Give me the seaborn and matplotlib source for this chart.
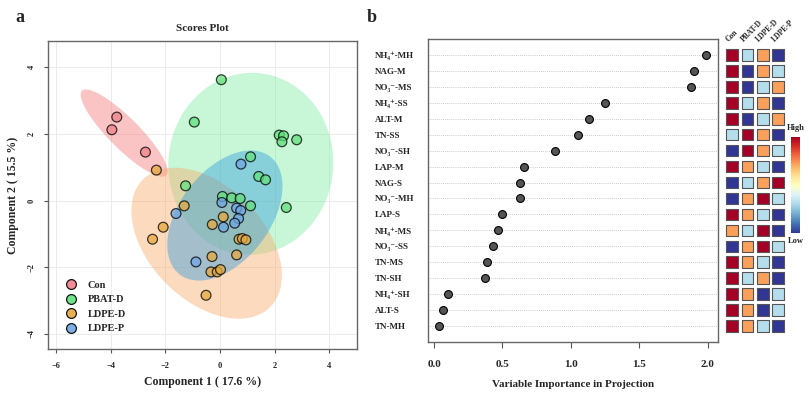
import matplotlib
matplotlib.use('Agg')
import matplotlib.pyplot as plt
from matplotlib.patches import Ellipse
import numpy as np
import pandas as pd
import seaborn as sns

# ---- scores plot data (component 1 / component 2) ----
groups = ['Con', 'PBAT-D', 'LDPE-D', 'LDPE-P']
con_x = [-3.78, -3.96, -2.73]
con_y = [2.50, 2.12, 1.45]
pbat_x = [0.05, -0.94, 2.17, 2.33, 2.27, 2.81, 1.12, 1.42, 1.67, -1.26, 0.09, 0.43, 0.74, 1.12, 2.43]
pbat_y = [3.62, 2.35, 1.96, 1.94, 1.76, 1.82, 1.31, 0.72, 0.62, 0.44, 0.12, 0.08, 0.06, -0.16, -0.21]
ldped_x = [-2.33, -1.31, 0.12, -0.28, -2.08, -2.47, 0.70, 0.82, 0.95, -0.29, 0.61, -0.33, -0.10, 0.02, -0.51]
ldped_y = [0.91, -0.16, -0.49, -0.72, -0.80, -1.16, -1.16, -1.14, -1.18, -1.68, -1.63, -2.14, -2.14, -2.07, -2.84]
ldpep_x = [0.77, 0.07, 0.61, 0.76, -1.61, 0.68, 0.54, 0.13, -0.88]
ldpep_y = [1.09, -0.06, -0.23, -0.30, -0.39, -0.54, -0.68, -0.80, -1.84]

# 95% regions: centre, full axes, angle
ell_cx = [-3.51, 1.13, -0.49, 0.18]
ell_cy = [2.02, 1.1, -1.28, -0.45]
ell_w = [4.0, 6.05, 6.1, 4.9]
ell_h = [1.0, 5.45, 3.7, 3.0]
ell_ang = [-38.6, 4, -32.5, 40]

# ---- VIP data ----
vip_labels = ['NH₄⁺-MH', 'NAG-M', 'NO₃⁻-MS', 'NH₄⁺-SS', 'ALT-M', 'TN-SS', 'NO₃⁻-SH', 'LAP-M', 'NAG-S',
              'NO₃⁻-MH', 'LAP-S', 'NH₄⁺-MS', 'NO₃⁻-SS', 'TN-MS', 'TN-SH', 'NH₄⁺-SH', 'ALT-S', 'TN-MH']
vip_scores = [1.99, 1.90, 1.88, 1.25, 1.13, 1.055, 0.885, 0.66, 0.63,
              0.63, 0.50, 0.465, 0.43, 0.39, 0.37, 0.10, 0.068, 0.037]
# relative level per group (1 low .. 4 high), columns Con, PBAT-D, LDPE-D, LDPE-P
levels = [[4, 2, 3, 1], [4, 1, 3, 2], [4, 1, 2, 3], [4, 2, 3, 1], [4, 1, 2, 3], [2, 4, 3, 1],
          [1, 4, 3, 2], [4, 3, 2, 1], [1, 2, 3, 4], [1, 3, 4, 2], [4, 3, 2, 1], [3, 2, 4, 1],
          [1, 3, 4, 2], [4, 3, 2, 1], [4, 2, 3, 1], [4, 3, 1, 2], [4, 3, 1, 2], [4, 3, 2, 1]]

sns.set_theme(style='white')
plt.rcParams['font.family'] = ['Liberation Serif', 'DejaVu Serif']
plt.rcParams['font.weight'] = 'bold'
plt.rcParams['axes.labelweight'] = 'bold'

fig = plt.figure(figsize=(8.09, 3.93), dpi=100)

# ---------------- panel a ----------------
ax = fig.add_axes([48 / 809, 1 - 349 / 393, 309 / 809, 308 / 393])
fill_cols = ['#F47C7C', '#6CEB98', '#F7A866', '#3AA0DC']
fill_alpha = [0.45, 0.38, 0.42, 0.45]
for i in range(4):
    e = Ellipse((ell_cx[i], ell_cy[i]), ell_w[i], ell_h[i], angle=ell_ang[i],
                facecolor=fill_cols[i], alpha=fill_alpha[i], edgecolor='none', zorder=1)
    ax.add_patch(e)

scores = pd.concat([
    pd.DataFrame({'x': con_x, 'y': con_y, 'group': 'Con'}),
    pd.DataFrame({'x': pbat_x, 'y': pbat_y, 'group': 'PBAT-D'}),
    pd.DataFrame({'x': ldped_x, 'y': ldped_y, 'group': 'LDPE-D'}),
    pd.DataFrame({'x': ldpep_x, 'y': ldpep_y, 'group': 'LDPE-P'}),
])
point_cols = {'Con': '#F08088', 'PBAT-D': '#62E07E', 'LDPE-D': '#E6A840', 'LDPE-P': '#6FA6E4'}
sns.scatterplot(ax=ax, data=scores, x='x', y='y', hue='group', hue_order=groups, palette=point_cols,
                s=50, edgecolor='black', linewidth=0.9, alpha=0.75, zorder=3)
ax.set_xlim(-6.3, 5.02)
ax.set_ylim(-4.45, 4.78)
ax.set_xticks([-6, -4, -2, 0, 2, 4])
ax.set_yticks([-4, -2, 0, 2, 4])
ax.grid(True, color='#EBEBEB', linewidth=0.7)
ax.set_axisbelow(True)
ax.tick_params(axis='both', labelsize=6, length=3, width=0.8, color='#555555', bottom=True, left=True, pad=6)
plt.setp(ax.get_yticklabels(), rotation=90, va='center')
for s in ax.spines.values():
    s.set_color('#666666')
    s.set_linewidth(1.0)
ax.set_xlabel('Component 1 ( 17.6 %)', fontsize=8.5, labelpad=5)
ax.set_ylabel('Component 2 ( 15.5 %)', fontsize=8.5, labelpad=6)
ax.set_title('Scores Plot', fontsize=8, fontweight='bold', pad=7)
leg = ax.legend(loc='lower left', bbox_to_anchor=(0.01, 0.02), frameon=False, fontsize=7.5,
                handletextpad=0.6, labelspacing=0.5, markerscale=1.0)
for h in leg.legend_handles:
    h.set_alpha(0.9)

# ---------------- panel b ----------------
bx = fig.add_axes([428 / 809, 1 - 342 / 393, 290 / 809, 303 / 393])
vip = pd.DataFrame({'feature': vip_labels, 'vip': vip_scores, 'row': np.arange(len(vip_labels))})
for r in vip['row']:
    bx.axhline(r, color='#BBBBBB', linestyle=(0, (1, 1.5)), linewidth=0.6, zorder=1)
sns.scatterplot(ax=bx, data=vip, x='vip', y='row', color='#555555', edgecolor='black',
                linewidth=0.8, s=32, zorder=3, legend=False)
bx.set_xlim(-0.044, 2.075)
bx.set_ylim(len(vip_labels), -1)
bx.set_yticks(vip['row'])
bx.set_yticklabels(vip_labels, fontsize=6.5, ha='left')
bx.tick_params(axis='y', length=0, pad=38)
bx.set_xticks([0.0, 0.5, 1.0, 1.5, 2.0])
bx.set_xticklabels(['0.0', '0.5', '1.0', '1.5', '2.0'])
bx.tick_params(axis='x', labelsize=8, length=4, width=0.8, color='#555555', bottom=True, pad=9)
for s in bx.spines.values():
    s.set_color('#666666')
    s.set_linewidth(1.0)
bx.set_xlabel('Variable Importance in Projection', fontsize=8, labelpad=8)
bx.set_ylabel('')

# heat squares next to VIP
cmap = plt.get_cmap('RdYlBu_r')
level_cols = {1: cmap(0.0), 2: cmap(0.32), 3: cmap(0.72), 4: cmap(1.0)}
hx = fig.add_axes([724.6 / 809, 1 - 342 / 393, 61.3 / 809, 303 / 393])
heat = pd.DataFrame([{'row': r, 'col': c, 'level': levels[r][c]}
                     for r in range(len(levels)) for c in range(4)])
sns.scatterplot(ax=hx, data=heat, x='col', y='row', hue='level', palette=level_cols, marker='s',
                s=70, edgecolor='#555555', linewidth=0.8, legend=False)
hx.set_xlim(-0.5, 3.5)
hx.set_ylim(len(levels), -1)
hx.axis('off')
for c, g in enumerate(groups):
    hx.text(c - 0.15, -0.75, g, rotation=45, rotation_mode='anchor', ha='left', va='bottom',
            fontsize=5.5, fontweight='bold', clip_on=False)

cax = fig.add_axes([791 / 809, 1 - 233 / 393, 9 / 809, 96 / 393])
sm = plt.cm.ScalarMappable(cmap=cmap, norm=plt.Normalize(0, 1))
cb = fig.colorbar(sm, cax=cax)
cb.set_ticks([])
cb.outline.set_visible(False)
fig.text(795.5 / 809, 1 - 128 / 393, 'High', ha='center', va='center', fontsize=6, fontweight='bold')
fig.text(795.5 / 809, 1 - 241 / 393, 'Low', ha='center', va='center', fontsize=6, fontweight='bold')

fig.text(20 / 809, 1 - 18 / 393, 'a', fontsize=13, fontweight='bold', ha='center', va='center')
fig.text(372 / 809, 1 - 18 / 393, 'b', fontsize=13, fontweight='bold', ha='center', va='center')

fig.savefig('out.png', dpi=100)
